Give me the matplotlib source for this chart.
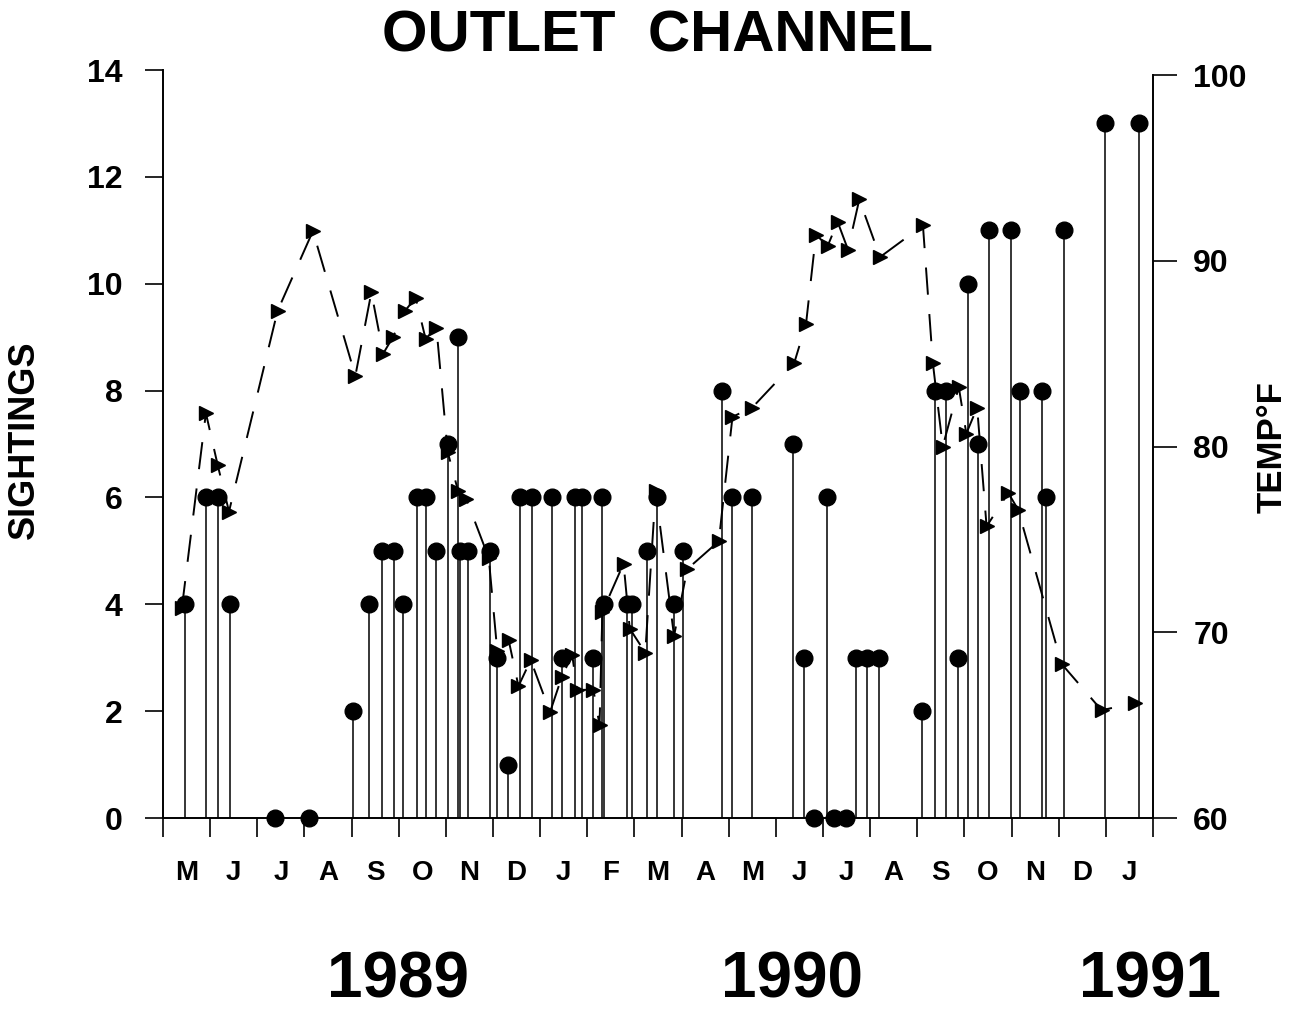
import matplotlib
matplotlib.use('Agg')
import matplotlib.pyplot as plt

plt.rcParams['font.family'] = ['Liberation Sans', 'DejaVu Sans']
plt.rcParams['font.weight'] = 'bold'

# months counted from 1 May 1989 (0 = start of May 1989)
sight_month = [0.46, 0.91, 1.17, 1.42, 2.38, 3.09, 4.04, 4.38, 4.65, 4.91, 5.09,
               5.38, 5.57, 5.79, 6.04, 6.26, 6.30, 6.47, 6.94, 7.09, 7.32,
               7.57, 7.82, 8.26, 8.46, 8.74, 8.89, 9.13, 9.31, 9.36, 9.84,
               9.95, 10.26, 10.48, 10.84, 11.03, 11.85, 12.08, 12.50, 13.36, 13.60,
               13.81, 14.09, 14.23, 14.49, 14.70, 14.94, 15.19, 16.09, 16.37, 16.60,
               16.87, 17.08, 17.28, 17.52, 17.99, 18.18, 18.64, 18.74, 19.12, 19.98,
               20.70]
sightings = [4, 6, 6, 4, 0, 0, 2, 4, 5, 5, 4,
             6, 6, 5, 7, 9, 5, 5, 5, 3, 1,
             6, 6, 6, 3, 6, 6, 3, 6, 4, 4,
             4, 5, 6, 4, 5, 8, 6, 6, 7, 3,
             0, 6, 0, 0, 3, 3, 3, 2, 8, 8,
             3, 10, 7, 11, 11, 8, 8, 6, 11, 13,
             13]

temp_month = [0.40, 0.91, 1.16, 1.40, 2.43, 3.18, 4.08, 4.42, 4.67, 4.88,
              5.13, 5.36, 5.57, 5.80, 6.04, 6.26, 6.43, 6.91, 7.09, 7.33,
              7.54, 7.80, 8.21, 8.46, 8.68, 8.78, 9.13, 9.26, 9.32, 9.77,
              9.90, 10.23, 10.45, 10.84, 11.12, 11.79, 12.08, 12.50, 13.39, 13.64,
              13.85, 14.10, 14.31, 14.53, 14.77, 15.21, 16.12, 16.33, 16.54, 16.88,
              17.04, 17.27, 17.47, 17.93, 18.14, 19.06, 19.91, 20.62]
temp_f = [71.3, 81.8, 79.0, 76.5, 87.3, 91.6, 83.8, 88.3, 85.0, 85.9,
          87.3, 88.0, 85.8, 86.4, 79.7, 77.6, 77.2, 74.0, 69.0, 69.6,
          67.1, 68.5, 65.7, 67.6, 68.8, 66.9, 66.9, 65.0, 71.1, 73.7,
          70.2, 68.9, 77.6, 69.8, 73.4, 74.9, 81.6, 82.1, 84.5, 86.6,
          91.4, 90.8, 92.1, 90.6, 93.3, 90.2, 91.9, 84.5, 80.0, 83.2,
          80.7, 82.1, 75.7, 77.5, 76.6, 68.3, 65.8, 66.2]

month_letters = list('MJJASONDJFMAMJJASONDJ')
years = ['1989', '1990', '1991']
year_pos = [4.98, 13.34, 20.94]

fig = plt.figure(figsize=(12.98, 10.13), dpi=100)
ax = fig.add_axes([163 / 1298, 1 - 818 / 1013, 990 / 1298, 748 / 1013])
ax2 = ax.twinx()

# sightings: stems with round heads
ax.vlines(sight_month, 0, sightings, color='black', lw=1.1)
ax.plot(sight_month, sightings, 'o', color='black', ms=12, clip_on=False)

# temperature: dashed line with triangles
ax2.plot(temp_month, temp_f, color='black', lw=1.4, ls=(0, (14, 10)),
         marker='>', ms=10, clip_on=False)

ax.set_zorder(ax2.get_zorder() + 1)
ax.patch.set_visible(False)

ax.set_xlim(0, 21)
ax.set_ylim(0, 14)
ax2.set_ylim(60, 100.27)

ax.set_xticks(range(22))
ax.set_xticklabels([])
ax.set_xticks([i + 0.5 for i in range(21)], minor=True)
ax.set_xticklabels(month_letters, minor=True, fontsize=20)
ax.tick_params(axis='x', which='major', direction='out', length=14, width=1.2)
ax.tick_params(axis='x', which='minor', length=0, pad=30)

ax.set_yticks(range(0, 15, 2))
ax.tick_params(axis='y', direction='out', length=13, width=1.2, labelsize=23, pad=16)
ax2.set_yticks(range(60, 101, 10))
ax2.tick_params(axis='y', direction='out', length=17, width=1.2, labelsize=23, pad=12)

for s in ['top', 'right']:
    ax.spines[s].set_visible(False)
for s in ['top', 'left', 'bottom']:
    ax2.spines[s].set_visible(False)
ax2.spines['right'].set_bounds(60, 100)
for sp in [ax.spines['left'], ax.spines['bottom'], ax2.spines['right']]:
    sp.set_linewidth(1.4)

ax.set_title('OUTLET  CHANNEL', fontsize=42, fontweight='bold', pad=13)

for yr, xp in zip(years, year_pos):
    ax.text(xp, -0.2406, yr, transform=ax.get_xaxis_transform(),
            ha='center', va='baseline', fontsize=46, fontweight='bold')

fig.text(24 / 1298, 1 - 440 / 1013, 'SIGHTINGS', rotation=90,
         ha='center', va='center', fontsize=26, fontweight='bold')
fig.text(1272 / 1298, 1 - 447 / 1013, 'TEMP°F', rotation=90,
         ha='center', va='center', fontsize=25, fontweight='bold')

fig.savefig('out.png', dpi=100)
